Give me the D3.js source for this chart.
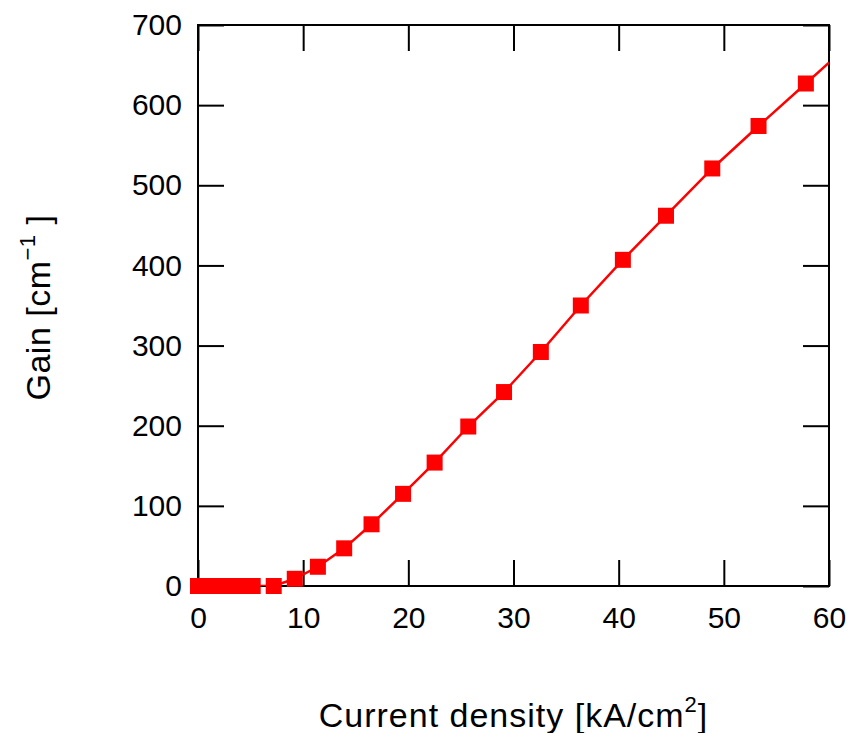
<html lang="en">
  <head>
    <meta charset="utf-8" />
    <title>Gain vs current density</title>
    <style>
     body { margin: 0; background: #fff; }
     svg text { font-family: "Liberation Sans", Arial, sans-serif; fill: #000; }
    </style>
  </head>
  <body>
    <div id="chart"></div>

    <script src="https://cdn.jsdelivr.net/npm/d3@7"></script>
    <script>

     // measured points
     var currentDensity = [0, 0.6, 1.2, 1.8, 2.4, 3.0, 3.6, 4.2, 5.2, 7.2, 9.2, 11.4, 13.9, 16.5,
                           19.5, 22.5, 25.7, 29.1, 32.6, 36.4, 40.4, 44.5, 48.9, 53.3, 57.8];
     var gain = [0, 0, 0, 0, 0, 0, 0, 0, 0, 0, 9, 24, 47, 77,
                 115, 154, 199, 242, 292, 350, 407, 462, 521, 574, 627];

     // the drawn line keeps going to the right edge
     var lineTailX = [60];
     var lineTailY = [653];

     var xTicks = [0, 10, 20, 30, 40, 50, 60];
     var yTicks = [0, 100, 200, 300, 400, 500, 600, 700];

     var width = 850, height = 733;
     var plotLeft = 198, plotRight = 829, plotTop = 25, plotBottom = 586;

     var svg = d3.select("#chart").append("svg")
                 .attr("width", width)
                 .attr("height", height);

     var x = d3.scaleLinear().domain([0, 60]).range([plotLeft, plotRight]);
     var y = d3.scaleLinear().domain([0, 700]).range([plotBottom, plotTop]);

     svg.append("clipPath").attr("id", "plotclip")
        .append("rect")
        .attr("x", plotLeft).attr("y", plotTop)
        .attr("width", plotRight - plotLeft).attr("height", plotBottom - plotTop);

     var tickLen = 26;

     // axes with inward ticks on all four sides
     function styleAxis(g) {
       g.select(".domain").remove();
       g.selectAll(".tick line").attr("stroke", "#000").attr("stroke-width", 2);
     }

     svg.append("g")
        .attr("transform", "translate(0," + plotBottom + ")")
        .call(d3.axisBottom(x).tickValues(xTicks).tickSizeInner(-tickLen).tickPadding(21).tickFormat(d3.format("d")))
        .call(styleAxis)
        .call(function (g) { g.selectAll("text").attr("font-size", 30).attr("font-family", null); });

     svg.append("g")
        .attr("transform", "translate(0," + plotTop + ")")
        .call(d3.axisTop(x).tickValues(xTicks).tickSizeInner(-tickLen).tickFormat(""))
        .call(styleAxis);

     svg.append("g")
        .attr("transform", "translate(" + plotLeft + ",0)")
        .call(d3.axisLeft(y).tickValues(yTicks).tickSizeInner(-tickLen).tickPadding(16).tickFormat(d3.format("d")))
        .call(styleAxis)
        .call(function (g) { g.selectAll("text").attr("font-size", 30).attr("font-family", null); });

     svg.append("g")
        .attr("transform", "translate(" + plotRight + ",0)")
        .call(d3.axisRight(y).tickValues(yTicks).tickSizeInner(-tickLen).tickFormat(""))
        .call(styleAxis);

     // frame
     svg.append("rect")
        .attr("x", plotLeft).attr("y", plotTop)
        .attr("width", plotRight - plotLeft).attr("height", plotBottom - plotTop)
        .attr("fill", "none")
        .attr("stroke", "#000")
        .attr("stroke-width", 2);

     // line + markers
     var lineData = currentDensity.map(function (d, i) { return [d, gain[i]]; })
                      .concat(lineTailX.map(function (d, i) { return [d, lineTailY[i]]; }));

     var line = d3.line()
                  .x(function (d) { return x(d[0]); })
                  .y(function (d) { return y(d[1]); });

     svg.append("path")
        .datum(lineData)
        .attr("clip-path", "url(#plotclip)")
        .attr("d", line)
        .attr("fill", "none")
        .attr("stroke", "#ff0000")
        .attr("stroke-width", 2.5);

     var size = 16;
     svg.append("g")
        .selectAll("rect")
        .data(currentDensity)
        .enter().append("rect")
        .attr("x", function (d) { return x(d) - size / 2; })
        .attr("y", function (d, i) { return y(gain[i]) - size / 2; })
        .attr("width", size)
        .attr("height", size)
        .attr("fill", "#ff0000");

     // axis titles
     var xt = svg.append("text")
        .attr("x", (plotLeft + plotRight) / 2)
        .attr("y", 727)
        .attr("text-anchor", "middle")
        .attr("font-size", 34)
        .attr("letter-spacing", 1);
     xt.append("tspan").text("Current density [kA/cm");
     xt.append("tspan").attr("font-size", 22).attr("dy", -15).text("2");
     xt.append("tspan").attr("dy", 15).text("]");

     var yt = svg.append("text")
        .attr("transform", "translate(50," + ((plotTop + plotBottom) / 2 + 2) + ") rotate(-90)")
        .attr("text-anchor", "middle")
        .attr("font-size", 34)
        .attr("letter-spacing", 0.5);
     yt.append("tspan").text("Gain [cm");
     yt.append("tspan").attr("font-size", 22).attr("dy", -15).text("\u22121");
     yt.append("tspan").attr("dy", 15).text(" ]");

    </script>
  </body>
</html>
